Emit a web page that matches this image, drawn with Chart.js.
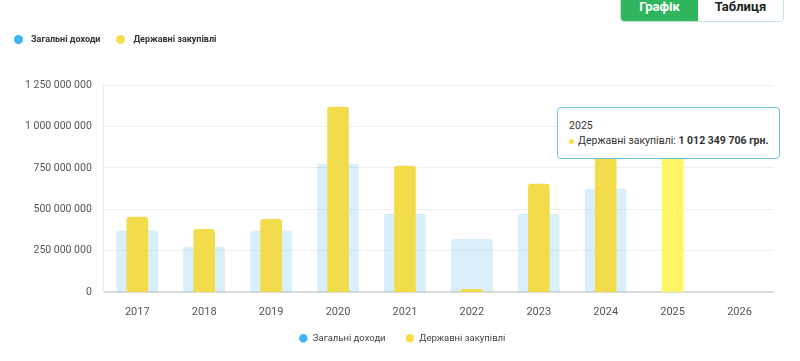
<!DOCTYPE html>
<html>
<head>
<meta charset="utf-8">
<script src="https://cdn.jsdelivr.net/npm/chart.js@4.4.0/dist/chart.umd.min.js"></script>
<style>
  html, body { margin: 0; padding: 0; background: #fff; font-family: Roboto, sans-serif; }
  #wrap { position: relative; width: 800px; height: 361px; overflow: hidden; }
  #chart { position: absolute; left: 0; top: 0; }
  .tabs { position: absolute; left: 620px; top: -10px; width: 162px; height: 30px; border: 1px solid #bfe8cc; border-radius: 4px; display: flex; overflow: hidden; }
  .tabs div { flex: 1; display: flex; align-items: center; justify-content: center; font-weight: bold; font-size: 13px; padding-top: 0; }
  .tabs .on { background: #2fb55d; color: #fff; flex: 0 0 77px; }
  .tabs .off { background: #fff; color: #222; }
  .toplegend { position: absolute; left: 14px; top: 34px; display: flex; font-size: 9px; font-weight: bold; color: #333; }
  .toplegend span { display: flex; align-items: center; margin-right: 16px; }
  .toplegend i { display: inline-block; width: 9px; height: 9px; border-radius: 50%; margin-right: 8px; }
  #tip { position: absolute; background: #fff; border: 1px solid #6cc4de; border-radius: 4px; padding: 11px 11px; font-size: 10.5px; color: #333; white-space: nowrap; pointer-events: none; }
  #tip .dot { display: inline-block; width: 5px; height: 5px; border-radius: 50%; margin-right: 4px; vertical-align: middle; }
</style>
</head>
<body>
<div id="wrap">
  <canvas id="chart" width="800" height="361"></canvas>
  <div class="tabs"><div class="on">Графік</div><div class="off">Таблиця</div></div>
  <div class="toplegend">
    <span><i style="background:#3ab4f2"></i>Загальні доходи</span>
    <span><i style="background:#f5dd4f"></i>Державні закупівлі</span>
  </div>
  <div id="tip"></div>
</div>
<script>
const years = ['2017', '2018', '2019', '2020', '2021', '2022', '2023', '2024', '2025', '2026'];
const incomeLabel = 'Загальні доходи';
const procurementLabel = 'Державні закупівлі';
const income = [370000000, 272000000, 370000000, 773000000, 471000000, 320000000, 471000000, 622000000, null, null];
const procurement = [453000000, 380000000, 440000000, 1117000000, 761000000, 18000000, 652000000, 880000000, 1012349706, null];
const yTicks = [0, 250000000, 500000000, 750000000, 1000000000, 1250000000];

const solid = ['#3ab4f2', '#f5dd4f'];

function fmt(v) {
  return String(Math.round(v)).replace(/\B(?=(\d{3})+(?!\d))/g, ' ');
}

function externalTip(context) {
  const tip = document.getElementById('tip');
  const t = context.tooltip;
  if (t.opacity === 0) { tip.style.display = 'none'; return; }
  const dp = t.dataPoints[0];
  tip.innerHTML = '<div style="margin-bottom:2px">' + dp.label + '</div>' +
    '<div><span class="dot" style="background:' + solid[dp.datasetIndex] + '"></span>' +
    dp.dataset.label + ': <b>' + fmt(dp.raw) + ' грн.</b></div>';
  tip.style.display = 'block';
  const w = tip.offsetWidth, h = tip.offsetHeight;
  tip.style.left = (t.caretX - w / 2 - 4) + 'px';
  tip.style.top = (t.caretY - h / 2 + 9) + 'px';
}

// nudge the bottom legend a little to the right, like the original page
const legendShift = {
  id: 'legendShift',
  afterLayout(chart) {
    chart.legend.left += 9;
    chart.legend.right += 9;
  }
};

const chart = new Chart(document.getElementById('chart'), {
  type: 'bar',
  data: {
    labels: years,
    datasets: [
      {
        label: incomeLabel,
        data: income,
        backgroundColor: 'rgba(58,180,242,0.2)',
        hoverBackgroundColor: 'rgba(58,180,242,0.3)',
        barThickness: 41,
        borderRadius: 3,
        order: 1
      },
      {
        label: procurementLabel,
        data: procurement,
        backgroundColor: '#f3dc4c',
        hoverBackgroundColor: '#fdf466',
        barThickness: 21,
        borderRadius: 3,
        order: 0
      }
    ]
  },
  options: {
    responsive: false,
    animation: false,
    events: [],
    layout: { padding: { top: 85, left: 13, right: 27, bottom: 8 } },
    scales: {
      x: {
        stacked: false,
        grid: { display: false },
        border: { color: '#dcdcdc', width: 2 },
        ticks: { color: '#555', font: { family: 'Roboto', size: 11 }, padding: 5 }
      },
      y: {
        min: 0,
        max: 1250000000,
        afterBuildTicks: (axis) => { axis.ticks = yTicks.map(v => ({ value: v })); },
        grid: { color: '#efefef', drawTicks: false },
        border: { color: '#eaeaea' },
        ticks: { color: '#555', font: { family: 'Roboto', size: 10.5 }, padding: 12, callback: (v) => fmt(v) }
      }
    },
    datasets: { bar: { grouped: false } },
    plugins: {
      legend: {
        position: 'bottom',
        labels: {
          usePointStyle: true,
          pointStyle: 'circle',
          boxWidth: 11,
          boxHeight: 6,
          padding: 10,
          color: '#444',
          font: { family: 'Roboto', size: 9.5 },
          sort: (a, b) => a.datasetIndex - b.datasetIndex,
          generateLabels: (c) => Chart.defaults.plugins.legend.labels.generateLabels(c).map(l => {
            l.fillStyle = solid[l.datasetIndex];
            l.strokeStyle = solid[l.datasetIndex];
            l.lineWidth = 0;
            if (l.datasetIndex === 0) l.text = l.text + '    ';
            return l;
          })
        }
      },
      tooltip: { enabled: false, external: externalTip }
    }
  },
  plugins: [legendShift]
});

const active = [{ datasetIndex: 1, index: 8 }];
chart.setActiveElements(active);
chart.tooltip.setActiveElements(active, { x: 0, y: 0 });
chart.update();
</script>
</body>
</html>
